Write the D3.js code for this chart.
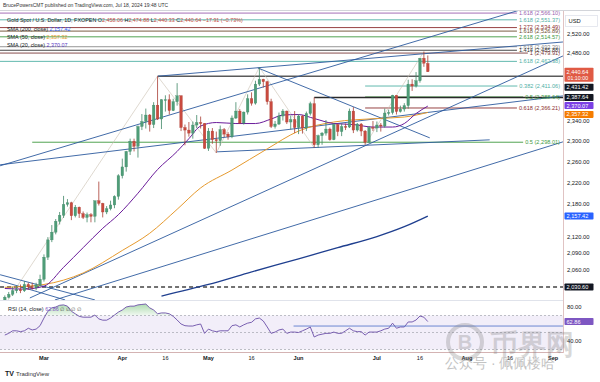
<!DOCTYPE html>
<html><head><meta charset="utf-8">
<script src="https://cdn.jsdelivr.net/npm/d3@7"></script>
<style>
body{margin:0;background:#fff}
svg{display:block}
text{font-family:"Liberation Sans",Arial,sans-serif}
</style>
</head><body>
<svg id="c" width="600" height="382"></svg>
<script>
// ---------------- DATA ----------------
const ohlc = [
["2024-02-16",2004,2016,1998,2013],["2024-02-19",2013,2022,2011,2018],["2024-02-20",2018,2031,2015,2024],
["2024-02-21",2024,2033,2020,2026],["2024-02-22",2026,2035,2020,2024],["2024-02-23",2024,2041,2022,2035],
["2024-02-26",2035,2038,2026,2031],["2024-02-27",2031,2038,2026,2030],["2024-02-28",2030,2038,2025,2034],
["2024-02-29",2034,2052,2031,2044],["2024-03-01",2044,2088,2040,2083],["2024-03-04",2083,2119,2078,2114],
["2024-03-05",2114,2141,2110,2128],["2024-03-06",2128,2152,2124,2148],["2024-03-07",2148,2165,2142,2159],
["2024-03-08",2159,2195,2154,2179],["2024-03-11",2179,2189,2175,2182],["2024-03-12",2182,2184,2150,2158],
["2024-03-13",2158,2178,2155,2174],["2024-03-14",2174,2175,2154,2162],["2024-03-15",2162,2166,2152,2155],
["2024-03-18",2155,2164,2146,2160],["2024-03-19",2160,2163,2146,2157],["2024-03-20",2157,2186,2146,2186],
["2024-03-21",2186,2222,2177,2181],["2024-03-22",2181,2182,2155,2165],["2024-03-25",2165,2176,2161,2171],
["2024-03-26",2171,2186,2168,2178],["2024-03-27",2178,2196,2172,2194],["2024-03-28",2194,2236,2188,2233],
["2024-04-01",2233,2266,2228,2250],["2024-04-02",2250,2281,2241,2280],["2024-04-03",2280,2305,2273,2300],
["2024-04-04",2300,2305,2280,2290],["2024-04-05",2290,2331,2268,2329],["2024-04-08",2329,2354,2322,2339],
["2024-04-09",2339,2365,2325,2352],["2024-04-10",2352,2354,2319,2333],["2024-04-11",2333,2378,2326,2372],
["2024-04-12",2372,2431.42,2342,2344],["2024-04-15",2344,2384,2324,2383],["2024-04-16",2383,2392,2359,2383],
["2024-04-17",2383,2394,2353,2361],["2024-04-18",2361,2385,2360,2379],["2024-04-19",2379,2417,2371,2391],
["2024-04-22",2391,2392,2320,2327],["2024-04-23",2327,2333,2292,2322],["2024-04-24",2322,2338,2309,2316],
["2024-04-25",2316,2339,2305,2332],["2024-04-26",2332,2352,2326,2337],["2024-04-29",2337,2349,2325,2335],
["2024-04-30",2335,2336,2285,2286],["2024-05-01",2286,2326,2281,2320],["2024-05-02",2320,2326,2295,2303],
["2024-05-03",2303,2319,2277,2301],["2024-05-06",2301,2331,2291,2323],["2024-05-07",2323,2326,2308,2314],
["2024-05-08",2314,2318,2303,2309],["2024-05-09",2309,2351,2306,2346],["2024-05-10",2346,2378,2344,2360],
["2024-05-13",2360,2364,2334,2336],["2024-05-14",2336,2359,2333,2358],["2024-05-15",2358,2394,2353,2385],
["2024-05-16",2385,2398,2371,2376],["2024-05-17",2376,2422,2373,2415],["2024-05-20",2415,2450,2411,2425],
["2024-05-21",2425,2426,2408,2420],["2024-05-22",2420,2422,2373,2379],["2024-05-23",2379,2385,2326,2329],
["2024-05-24",2329,2340,2325,2334],["2024-05-27",2334,2357,2332,2350],["2024-05-28",2350,2364,2341,2360],
["2024-05-29",2360,2361,2334,2338],["2024-05-30",2338,2351,2323,2343],["2024-05-31",2343,2360,2316,2327],
["2024-06-03",2327,2354,2314,2350],["2024-06-04",2350,2352,2315,2326],["2024-06-05",2326,2359,2320,2355],
["2024-06-06",2355,2379,2351,2375],["2024-06-07",2375,2387.64,2287,2293],["2024-06-10",2293,2313,2287,2311],
["2024-06-11",2311,2318,2293,2316],["2024-06-12",2316,2342,2311,2324],["2024-06-13",2324,2327,2301,2303],
["2024-06-14",2303,2336,2302,2333],["2024-06-17",2333,2334,2310,2319],["2024-06-18",2319,2335,2310,2329],
["2024-06-19",2329,2335,2322,2328],["2024-06-20",2328,2365,2326,2360],["2024-06-21",2360,2368,2316,2322],
["2024-06-24",2322,2336,2319,2334],["2024-06-25",2334,2336,2310,2320],["2024-06-26",2320,2322,2293,2298],
["2024-06-27",2298,2330,2297,2327],["2024-06-28",2327,2340,2320,2326],["2024-07-01",2326,2339,2318,2332],
["2024-07-02",2332,2336,2319,2330],["2024-07-03",2330,2365,2327,2356],["2024-07-04",2356,2363,2351,2357],
["2024-07-05",2357,2393,2353,2392],["2024-07-08",2392,2392,2353,2359],["2024-07-09",2359,2371,2357,2364],
["2024-07-10",2364,2376,2359,2371],["2024-07-11",2371,2424,2365,2415],["2024-07-12",2415,2425,2401,2411],
["2024-07-15",2411,2440,2408,2422],["2024-07-16",2422,2469,2418,2469],["2024-07-17",2469,2483,2451,2458.55],
["2024-07-18",2458.06,2474.88,2440.33,2440.64]
];
const holidays = ["2024-03-29"];

const sma20 = [["2024-02-16",2028],["2024-02-23",2027],["2024-03-01",2032],["2024-03-08",2065],["2024-03-15",2100],
["2024-03-22",2135],["2024-03-28",2160],["2024-04-05",2200],["2024-04-12",2245],["2024-04-19",2280],["2024-04-24",2305],
["2024-04-29",2330],["2024-05-03",2337],["2024-05-10",2335],["2024-05-17",2335],["2024-05-23",2344],["2024-05-28",2352],
["2024-06-03",2353],["2024-06-07",2345],["2024-06-14",2335],["2024-06-21",2333],["2024-06-28",2328],["2024-07-05",2328],
["2024-07-10",2335],["2024-07-15",2355],["2024-07-18",2370.07]];
const sma50 = [["2024-02-16",2030],["2024-03-01",2035],["2024-03-15",2055],["2024-04-01",2095],["2024-04-10",2126],
["2024-04-19",2170],["2024-04-29",2210],["2024-05-09",2244],["2024-05-22",2285],["2024-06-03",2320],["2024-06-14",2338],
["2024-07-01",2345],["2024-07-10",2348],["2024-07-18",2357.32]];
const sma200 = [["2024-04-15",2015],["2024-05-01",2035],["2024-05-15",2055],["2024-06-03",2080],["2024-06-17",2100],
["2024-07-01",2120],["2024-07-10",2138],["2024-07-18",2157.42]];

const rsi = [47,49,52,52,51,52,55,53,54,58, 67,75,79,80,82,82.5,81,75,72,69, 68,68,68,70.5,66,64.5,64.5,67,70.5,74,
76.5,80,81,81,82.5,83,83.5,79,76.5,72, 73,73,72,69,64.7,60,58,57.6,57.6,59, 60,49,54,52,51,52,52,52,58,59,
56.5,59,61,62,66,67,63.5,56.5,49,50.5, 53,54,49,50.5,50.5,50,52,54,56.5,44.7, 47,48,49,49,50.5,49,49,52,55,52,
51,51,47,50.5,50.5,50.5,52,54,55,61, 55,56.5,56.5,62.4,62.4,64.7,69.4,68,62.86];
const rsiLevel = [["2024-06-03",57.6]];

// price axis ticks
const priceTicks = [2520,2480,2340,2300,2260,2220,2180,2120,2090,2060];
const rsiTicks = [80,40];
const timeTicks = [["Mar","2024-03-01",1],["Apr","2024-04-01",1],["16","2024-04-16",0],["May","2024-05-01",1],
["16","2024-05-16",0],["Jun","2024-06-03",1],["Jul","2024-07-01",1],["16","2024-07-16",0],["Aug","2024-08-01",1],
["16","2024-08-16",0],["Sep","2024-09-02",1]];

// fibonacci levels: [ratio, price, start bar]
const fibs = [["1.618",2566.10,-3],["1.618",2551.37,-3],["1.272",2534.49,-3],["1.618",2526.89,-3],["2.618",2514.57,-3],
["1.618",2493.39,-3],["1.414",2485.88,-3],["1",2479.91,-3],["1.618",2462.38,-3],
["0.382",2411.06,92],["0.5",2388.64,92],["0.618",2366.21,92],["0.5",2298.01,7]];
// horizontal levels: [price, start bar]
const levels = [[2431.42,39],[2387.64,79],[2030.60,-3]];
// trend lines: [bar1, price1, bar2, price2]
const trendLines = [
[-1.2,2252.2,131.5,2572.8],[-1.2,2254.1,142.5,2390.8],[54.2,2279.2,123.8,2302.7],[64.6,2448.6,108.5,2306.6],
[12.8,2008.3,142.5,2298.7],[6.4,2011.7,142.5,2473.8],[39.1,2431.4,142.5,2503.5],[-1.2,2052,23,2008.3],[-1.2,2041.5,15.4,2008.3]];
// thin swing connectors: [bar1, price1, bar2, price2]
const swings = [[0,2000,39,2431.42],[39,2431.42,54,2277],[54,2277,65,2450],[65,2450,79,2287],[92,2293,107,2483]];

// ---------------- SETUP ----------------
const parse = d3.utcParse("%Y-%m-%d"), fmtD = d3.utcFormat("%Y-%m-%d");
const start = parse(ohlc[0][0]);
function barIndex(ds){
  const d = parse(ds);
  return d3.utcDay.range(start, d).filter(x=>{const w=x.getUTCDay();return w!==0&&w!==6&&!holidays.includes(fmtD(x));}).length;
}
const svg = d3.select("#c");
const AX = 563;
const xs = d3.scaleLinear().domain([0,108]).range([4.8,427.8]);
const ys = d3.scaleLog().domain([2520,2030.6]).range([34.3,287]);
const rs = d3.scaleLinear().domain([80,40]).range([307,341]);
const f2 = d3.format(",.2f");

const defs = svg.append("defs");
defs.append("clipPath").attr("id","cm").append("rect").attr("x",0).attr("y",11).attr("width",AX).attr("height",289);
defs.append("clipPath").attr("id","cr").append("rect").attr("x",0).attr("y",301).attr("width",AX).attr("height",51);
const gr = defs.append("linearGradient").attr("id","gob").attr("x1",0).attr("x2",0).attr("y1",0).attr("y2",1);
gr.append("stop").attr("offset","0%").attr("stop-color","#4caf50").attr("stop-opacity",0.45);
gr.append("stop").attr("offset","100%").attr("stop-color","#4caf50").attr("stop-opacity",0.08);

// borders
svg.append("line").attr("x1",0).attr("x2",600).attr("y1",10.5).attr("y2",10.5).attr("stroke","#c8cad0").attr("stroke-width",0.8);
svg.append("line").attr("x1",0).attr("x2",AX).attr("y1",300.5).attr("y2",300.5).attr("stroke","#e0e3eb").attr("stroke-width",1);

const main = svg.append("g").attr("clip-path","url(#cm)");

// fib levels
const fibStyle = ["#9a5fb0","#4fb0a5","#8b2e2e","#6b4b2e","#3e9a3e","#8a8a8a","#333333","#7a3a3a","#4fb0a5","#4fb0a5","#3e9a3e","#8b2e2e","#3e9a3e"];
const labelG = svg.append("g");
fibs.forEach((f,i)=>{
  const y = ys(f[1]);
  const t = labelG.append("text").attr("x",560).attr("y",y+1.9).attr("text-anchor","end")
    .attr("font-size",5.6).attr("fill",fibStyle[i]).text(`${f[0]} (${f2(f[1])})`);
  const w = t.node().getComputedTextLength();
  main.append("line").attr("x1",xs(f[2])).attr("x2",560-w-2).attr("y1",y).attr("y2",y)
    .attr("stroke",fibStyle[i]).attr("stroke-width",0.9);
});
// horizontal levels
const lvStyle = [["#5a5a5a",1.6,null],["#2a2a2a",1.4,null],["#444",1.3,"4,3"]];
levels.forEach((l,i)=>{
  main.append("line").attr("x1",xs(l[1])).attr("x2",AX).attr("y1",ys(l[0])).attr("y2",ys(l[0]))
    .attr("stroke",lvStyle[i][0]).attr("stroke-width",lvStyle[i][1]).attr("stroke-dasharray",lvStyle[i][2]);
});
// swings
swings.forEach(s=>{
  main.append("line").attr("x1",xs(s[0])).attr("y1",ys(s[1])).attr("x2",xs(s[2])).attr("y2",ys(s[3]))
    .attr("stroke","#c9bfb0").attr("stroke-width",0.6);
});
// trend lines
trendLines.forEach(t=>{
  main.append("line").attr("x1",xs(t[0])).attr("y1",ys(t[1])).attr("x2",xs(t[2])).attr("y2",ys(t[3]))
    .attr("stroke","#2d5a9e").attr("stroke-width",0.9);
});
// SMAs
function smaLine(arr,color,w){
  const line = d3.line().x(d=>xs(barIndex(d[0]))).y(d=>ys(d[1])).curve(d3.curveMonotoneX);
  main.append("path").attr("d",line(arr)).attr("fill","none").attr("stroke",color).attr("stroke-width",w);
}
smaLine(sma200,"#1f3f8f",1.3);
smaLine(sma50,"#e69a2e",1);
smaLine(sma20,"#6a1b9a",1);

// candles
const cw = 2.6;
const cg = main.append("g");
ohlc.forEach((d,k)=>{
  const [ds,o,h,l,c] = d;
  const up = c>=o;
  const col = up?"#4f9d78":"#c94a3f";
  const x = xs(k);
  cg.append("line").attr("x1",x).attr("x2",x).attr("y1",ys(h)).attr("y2",ys(l)).attr("stroke",up?"#3f8766":"#a83d34").attr("stroke-width",0.8);
  const y0 = ys(Math.max(o,c)), y1 = ys(Math.min(o,c));
  cg.append("rect").attr("x",x-cw/2).attr("y",y0).attr("width",cw).attr("height",Math.max(0.8,y1-y0))
    .attr("fill",col).attr("stroke",up?"#3f8766":"#a83d34").attr("stroke-width",0.3);
});

// ---------------- RSI ----------------
const rg = svg.append("g").attr("clip-path","url(#cr)");
rg.append("rect").attr("x",0).attr("width",AX).attr("y",rs(70)).attr("height",rs(30)-rs(70)).attr("fill","#7e57c2").attr("fill-opacity",0.1);
[70,50,30].forEach(v=>rg.append("line").attr("x1",0).attr("x2",AX).attr("y1",rs(v)).attr("y2",rs(v))
  .attr("stroke","#9598a1").attr("stroke-width",0.6).attr("stroke-dasharray","2,2"));
const ob = d3.area().x((d,i)=>xs(i)).y0(rs(70)).y1(d=>rs(Math.max(70,d)));
rg.append("path").attr("d",ob(rsi)).attr("fill","url(#gob)");
rg.append("path").attr("d",d3.line().x((d,i)=>xs(i)).y(d=>rs(d))(rsi)).attr("fill","none").attr("stroke","#6b4fa8").attr("stroke-width",0.9);
rsiLevel.forEach(r=>rg.append("line").attr("x1",xs(barIndex(r[0]))-5).attr("x2",AX).attr("y1",rs(r[1])).attr("y2",rs(r[1]))
  .attr("stroke","#4a6cc8").attr("stroke-width",0.8));
svg.append("line").attr("x1",0).attr("x2",AX).attr("y1",352.5).attr("y2",352.5).attr("stroke","#c9a0a0").attr("stroke-width",0.8);

// price axis border
svg.append("line").attr("x1",AX+0.5).attr("x2",AX+0.5).attr("y1",11).attr("y2",353).attr("stroke","#d8b4b4").attr("stroke-width",0.8);

// ---------------- AXES ----------------
const ax = svg.append("g").attr("font-size",5.8).attr("fill","#131722");
priceTicks.forEach(v=>{
  ax.append("text").attr("x",567).attr("y",ys(v)+2).text(f2(v));
});
rsiTicks.forEach(v=>ax.append("text").attr("x",567).attr("y",rs(v)+2).text(f2(v)));
// USD box
svg.append("rect").attr("x",565.5).attr("y",15.5).attr("width",32).attr("height",11).attr("fill","#fff").attr("stroke","#e0e3eb").attr("stroke-width",0.8);
svg.append("text").attr("x",568.5).attr("y",23).attr("font-size",5.8).attr("fill","#131722").text("USD");
// value boxes
function box(yc,txt,fill,h){
  svg.append("rect").attr("x",564.5).attr("y",yc-(h||7)/2).attr("width",29).attr("height",h||7).attr("fill",fill).attr("rx",0.8);
  svg.append("text").attr("x",566.5).attr("y",yc+2).attr("font-size",5.6).attr("fill","#fff").text(txt);
}
const last = ohlc[ohlc.length-1];
svg.append("rect").attr("x",564.5).attr("y",ys(last[4])-4).attr("width",29).attr("height",14).attr("fill","#e05a44").attr("rx",0.8);
svg.append("text").attr("x",566.5).attr("y",ys(last[4])+1.8).attr("font-size",5.6).attr("fill","#fff").text(f2(last[4]));
svg.append("text").attr("x",567.5).attr("y",ys(last[4])+8.2).attr("font-size",5.3).attr("fill","#fff").text("01:10:00");
box(ys(levels[0][0])+11,f2(levels[0][0]),"#131722");
box(ys(levels[1][0]),f2(levels[1][0]),"#131722");
box(ys(sma20[sma20.length-1][1])-0.5,f2(sma20[sma20.length-1][1]),"#7b3fe4");
box(ys(sma50[sma50.length-1][1])+2,f2(sma50[sma50.length-1][1]),"#f57c00");
box(ys(sma200[sma200.length-1][1]),f2(sma200[sma200.length-1][1]),"#2962ff");
box(ys(levels[2][0]),f2(levels[2][0]),"#131722");
box(rs(rsi[rsi.length-1]),d3.format(".2f")(rsi[rsi.length-1]),"#7e57c2");

// time axis
timeTicks.forEach(t=>{
  svg.append("text").attr("x",xs(barIndex(t[1]))).attr("y",360).attr("text-anchor","middle")
    .attr("font-size",5.6).attr("font-weight",t[2]?"bold":"normal").attr("fill","#131722").text(t[0]);
});

// ---------------- HEADER ----------------
const hd = svg.append("g").attr("font-size",5.4);
hd.append("text").attr("x",3).attr("y",7.3).attr("font-size",5).attr("fill","#333").text("BrucePowersCMT published on TradingView.com, Jul 18, 2024 19:48 UTC");
const chg = last[4]-ohlc[ohlc.length-2][4];
const t1 = hd.append("text").attr("x",7).attr("y",21.5).attr("fill","#131722");
t1.append("tspan").text("Gold Spot / U.S. Dollar, 1D, FXOPEN  ");
["O","H","L","C"].forEach((k,i)=>{ t1.append("tspan").text(k); t1.append("tspan").attr("fill","#c94a3f").text(f2(last[i+1])+"  "); });
t1.append("tspan").attr("fill","#c94a3f").text(`−${f2(-chg)} (−${d3.format(".2f")(-chg/ohlc[ohlc.length-2][4]*100)}%)`);
const smaLeg = [["SMA (200, close)",sma200,"#2962ff",30.5],["SMA (50, close)",sma50,"#e69a2e",38.8],["SMA (20, close)",sma20,"#5b3cc4",47]];
smaLeg.forEach(s=>{
  const t = hd.append("text").attr("x",7).attr("y",s[3]).attr("fill","#131722");
  t.append("tspan").text(s[0]+" ");
  t.append("tspan").attr("fill",s[2]).text(f2(s[1][s[1].length-1][1]));
});
const rt = svg.append("text").attr("x",8).attr("y",311).attr("font-size",5.4).attr("fill","#131722");
rt.append("tspan").text("RSI (14, close) ");
rt.append("tspan").attr("fill","#7e57c2").text(d3.format(".2f")(rsi[rsi.length-1]));
rt.append("tspan").attr("fill","#555").text("  ∅  ∅  ∅  ∅");

// footer logo
svg.append("text").attr("x",5).attr("y",376).attr("font-size",7).attr("font-weight","bold").attr("fill","#131722").text("TV");
svg.append("text").attr("x",16).attr("y",376).attr("font-size",6).attr("fill","#333").text("TradingView");

// watermark
const wm = svg.append("g").attr("opacity",0.28);
wm.append("circle").attr("cx",465).attr("cy",342).attr("r",17).attr("fill","none").attr("stroke","#777").attr("stroke-width",4);
wm.append("text").attr("x",465).attr("y",349).attr("text-anchor","middle").attr("font-size",20).attr("font-weight","bold").attr("fill","#777").text("B");
wm.append("text").attr("x",490).attr("y",354).attr("font-size",28).attr("font-weight","bold").attr("fill","#777")
  .attr("font-family","Noto Sans CJK SC").text("币界网");
const wm2 = svg.append("g").attr("opacity",0.5);
wm2.append("text").attr("x",445).attr("y",368).attr("font-size",14).attr("fill","#888")
  .attr("font-family","Noto Sans CJK SC").text("公众号 · 佩佩楼哈");
</script>
</body></html>
